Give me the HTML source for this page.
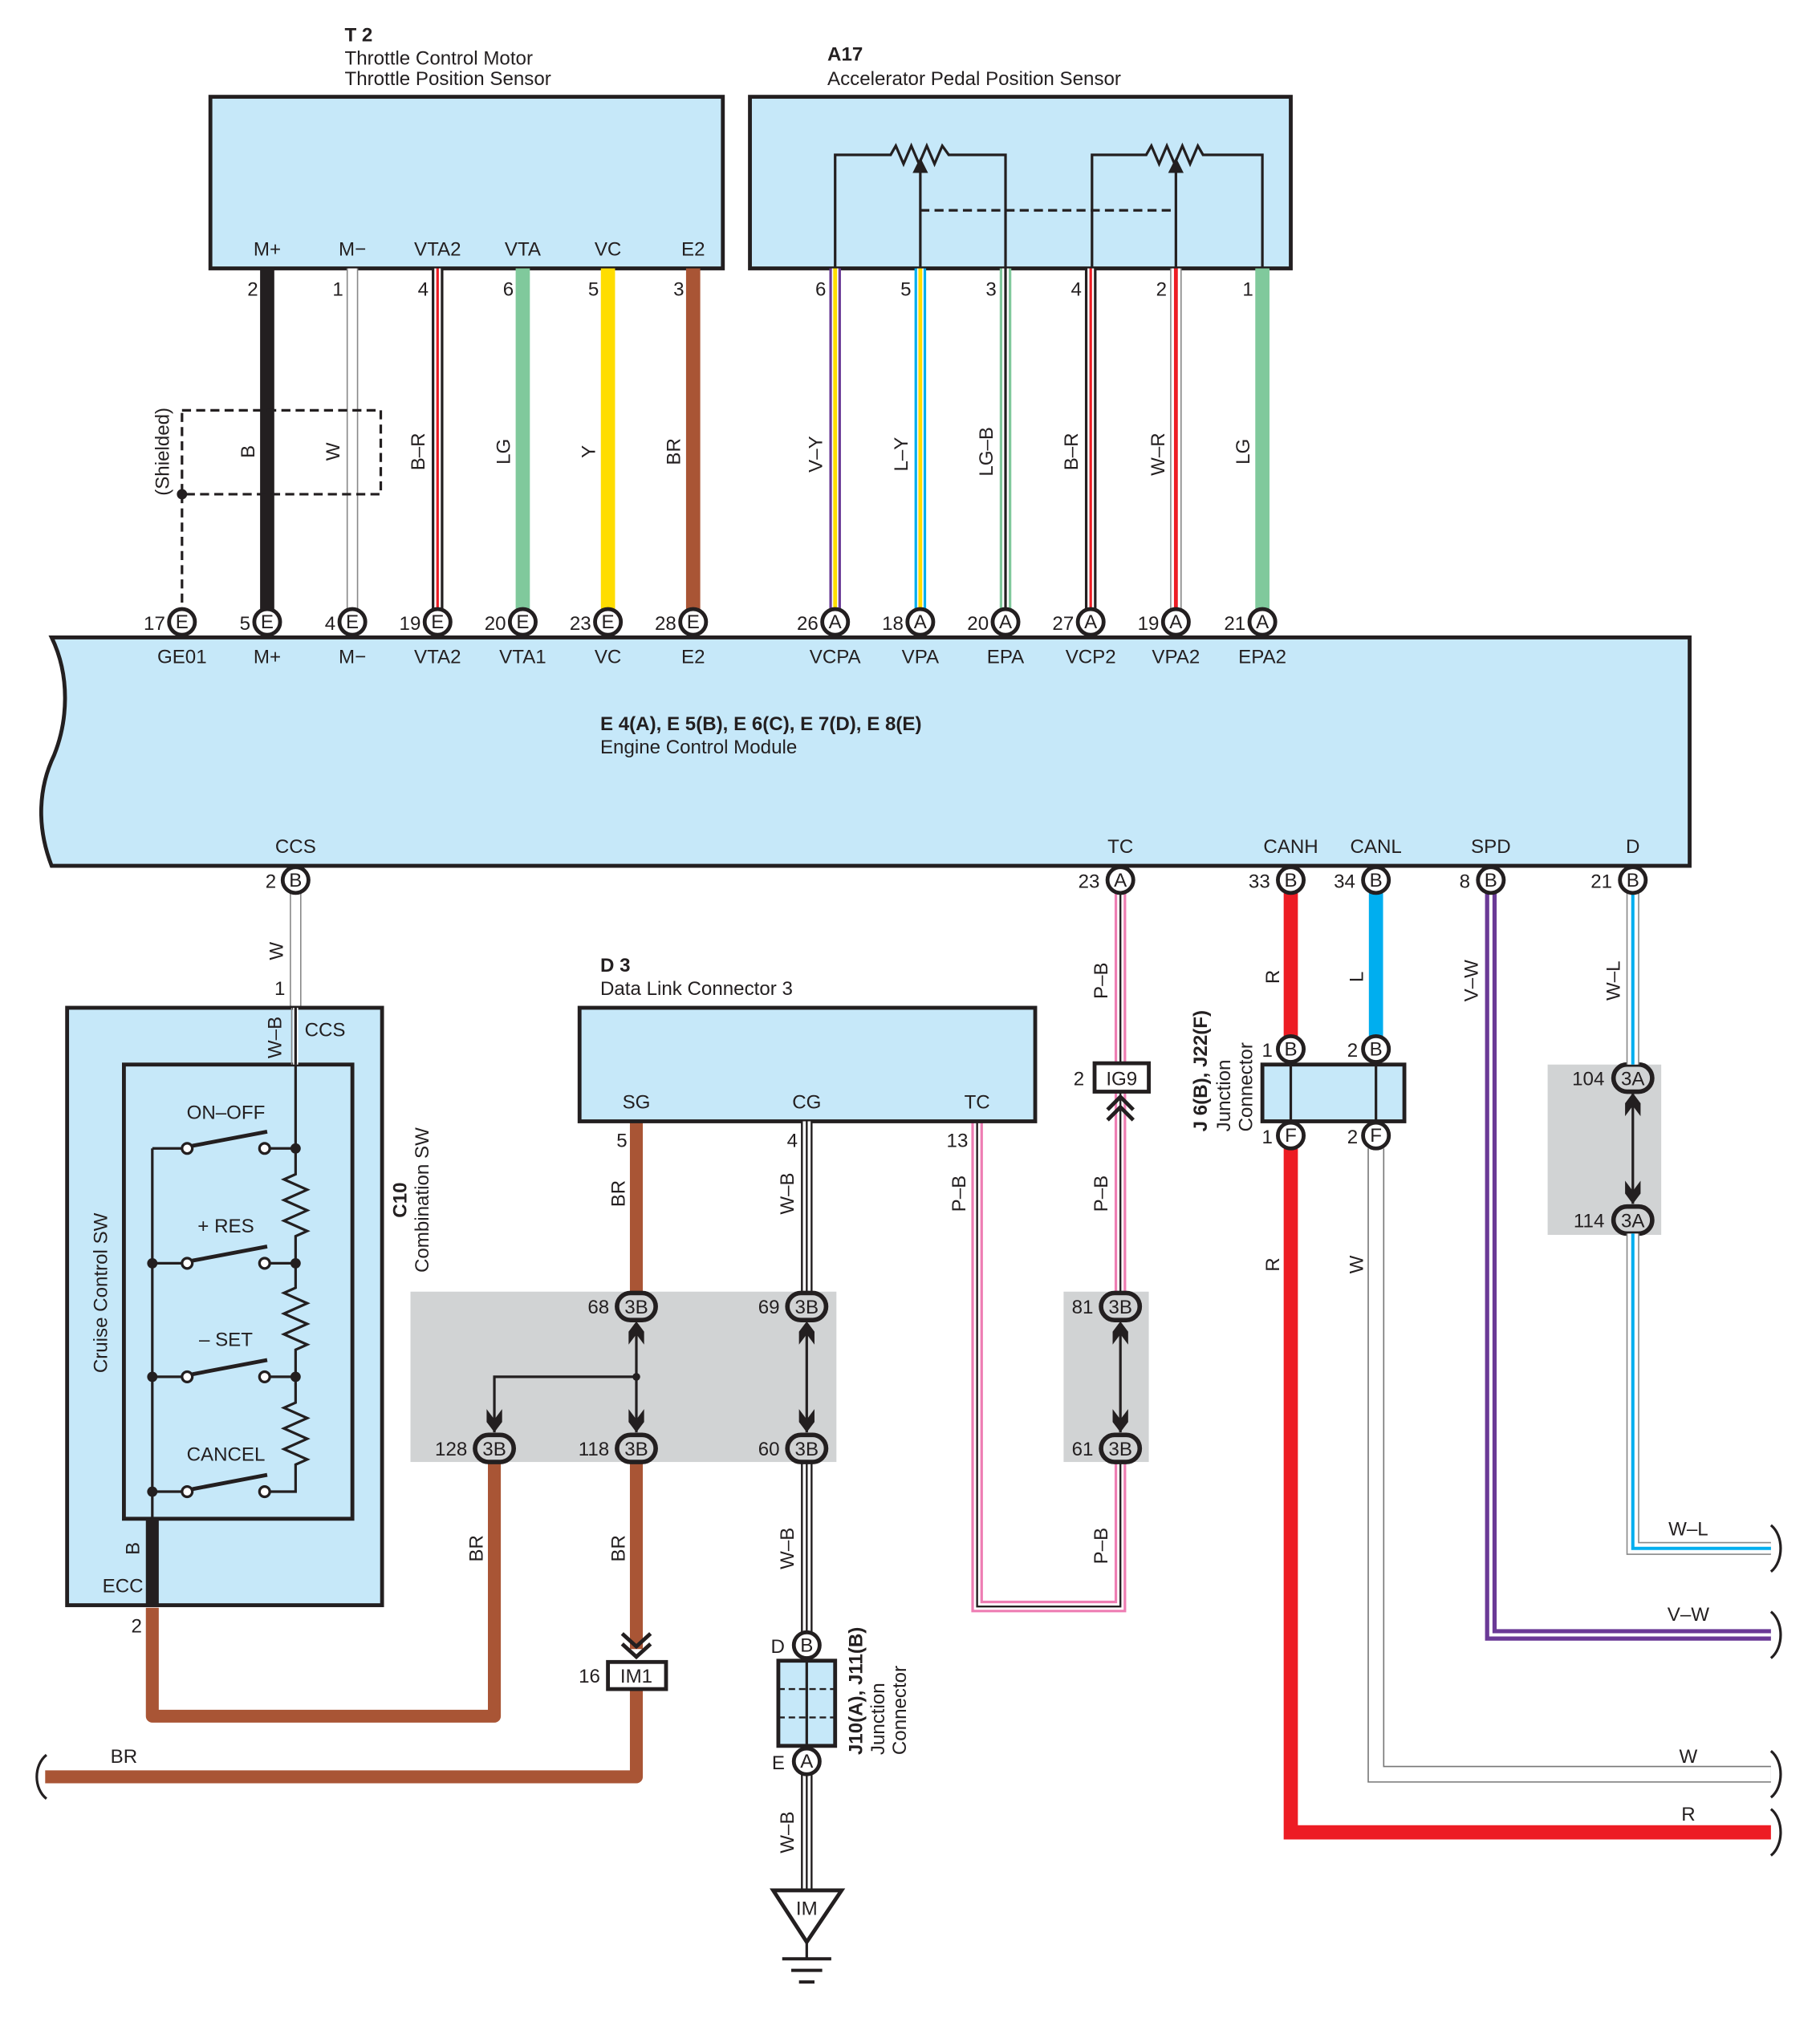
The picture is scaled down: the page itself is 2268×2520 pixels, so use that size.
<!DOCTYPE html>
<html><head><meta charset="utf-8"><style>
html,body{margin:0;padding:0;background:#fff}
svg{display:block}
text{font-family:"Liberation Sans",Arial,sans-serif;fill:#231f20;font-size:15px}
.b{font-weight:bold}
.c{text-anchor:middle}
.e{text-anchor:end}
</style></head><body>
<svg width="2268" height="2520" viewBox="0 0 1410 1567" preserveAspectRatio="none" xmlns="http://www.w3.org/2000/svg">
<defs>
<g id="ah"><polygon points="-6,-12 0,-4 6,-12 6,-2 0,6 -6,-2" fill="#231f20"/></g>
</defs>
<rect width="1410" height="1567" fill="#fff"/>

<!-- Titles -->
<text x="267" y="32" class="b">T 2</text>
<text x="267" y="50">Throttle Control Motor</text>
<text x="267" y="66">Throttle Position Sensor</text>
<text x="641" y="47" class="b">A17</text>
<text x="641" y="66">Accelerator Pedal Position Sensor</text>

<!-- T2 box -->
<rect x="163" y="75" width="397" height="133" fill="#c6e8f9" stroke="#231f20" stroke-width="3"/>
<text x="207" y="198" class="c">M+</text><text x="273" y="198" class="c">M−</text><text x="339" y="198" class="c">VTA2</text>
<text x="405" y="198" class="c">VTA</text><text x="471" y="198" class="c">VC</text><text x="537" y="198" class="c">E2</text>
<!-- A17 box -->
<rect x="581" y="75" width="419" height="133" fill="#c6e8f9" stroke="#231f20" stroke-width="3"/>
<g fill="none" stroke="#231f20" stroke-width="2">
<polyline points="647,208 647,120 690,120 694,113 700,127 706,113 712,127 718,113 724,127 730,113 735,120 779,120 779,208"/>
<polyline points="846,208 846,120 888,120 892,113 898,127 904,113 910,127 916,113 922,127 928,113 932,120 978,120 978,208"/>
<line x1="713" y1="208" x2="713" y2="132"/><line x1="911" y1="208" x2="911" y2="132"/>
<line x1="713" y1="163" x2="911" y2="163" stroke-dasharray="7,4"/>
</g>
<polygon points="707,134 713,122 719,134" fill="#231f20"/><polygon points="905,134 911,122 917,134" fill="#231f20"/>

<!-- T2 wires -->
<line x1="207" y1="208" x2="207" y2="474" stroke="#231f20" stroke-width="11"/>
<line x1="273" y1="208" x2="273" y2="474" stroke="#888" stroke-width="9"/><line x1="273" y1="208" x2="273" y2="474" stroke="#fff" stroke-width="7"/>
<line x1="339" y1="208" x2="339" y2="474" stroke="#231f20" stroke-width="9"/><line x1="339" y1="208" x2="339" y2="474" stroke="#fff" stroke-width="5"/><line x1="339" y1="208" x2="339" y2="474" stroke="#ed1c24" stroke-width="2"/>
<line x1="405" y1="208" x2="405" y2="474" stroke="#80c99c" stroke-width="11"/>
<line x1="471" y1="208" x2="471" y2="474" stroke="#ffdd00" stroke-width="11"/>
<line x1="537" y1="208" x2="537" y2="474" stroke="#a95535" stroke-width="11"/>
<!-- A17 wires -->
<line x1="647" y1="208" x2="647" y2="474" stroke="#6a3a96" stroke-width="9"/><line x1="647" y1="208" x2="647" y2="474" stroke="#fff" stroke-width="5"/><line x1="647" y1="208" x2="647" y2="474" stroke="#ffdd00" stroke-width="3"/>
<line x1="713" y1="208" x2="713" y2="474" stroke="#00aeef" stroke-width="9"/><line x1="713" y1="208" x2="713" y2="474" stroke="#fff" stroke-width="5"/><line x1="713" y1="208" x2="713" y2="474" stroke="#ffdd00" stroke-width="3"/>
<line x1="779" y1="208" x2="779" y2="474" stroke="#80c99c" stroke-width="9"/><line x1="779" y1="208" x2="779" y2="474" stroke="#fff" stroke-width="5"/><line x1="779" y1="208" x2="779" y2="474" stroke="#231f20" stroke-width="2"/>
<line x1="845" y1="208" x2="845" y2="474" stroke="#231f20" stroke-width="9"/><line x1="845" y1="208" x2="845" y2="474" stroke="#fff" stroke-width="5"/><line x1="845" y1="208" x2="845" y2="474" stroke="#ed1c24" stroke-width="2"/>
<line x1="911" y1="208" x2="911" y2="474" stroke="#888" stroke-width="9"/><line x1="911" y1="208" x2="911" y2="474" stroke="#fff" stroke-width="7"/><line x1="911" y1="208" x2="911" y2="474" stroke="#ed1c24" stroke-width="3"/>
<line x1="978" y1="208" x2="978" y2="474" stroke="#80c99c" stroke-width="11"/>

<!-- pin numbers top -->
<text x="200" y="229" class="e">2</text><text x="266" y="229" class="e">1</text><text x="332" y="229" class="e">4</text><text x="398" y="229" class="e">6</text><text x="464" y="229" class="e">5</text><text x="530" y="229" class="e">3</text>
<text x="640" y="229" class="e">6</text><text x="706" y="229" class="e">5</text><text x="772" y="229" class="e">3</text><text x="838" y="229" class="e">4</text><text x="904" y="229" class="e">2</text><text x="971" y="229" class="e">1</text>
<!-- wire labels rotated -->
<text transform="translate(197,350) rotate(-90)" class="c">B</text>
<text transform="translate(263,350) rotate(-90)" class="c">W</text>
<text transform="translate(329,350) rotate(-90)" class="c">B–R</text>
<text transform="translate(395,350) rotate(-90)" class="c">LG</text>
<text transform="translate(461,350) rotate(-90)" class="c">Y</text>
<text transform="translate(527,350) rotate(-90)" class="c">BR</text>
<text transform="translate(637,352) rotate(-90)" class="c">V–Y</text>
<text transform="translate(703,352) rotate(-90)" class="c">L–Y</text>
<text transform="translate(769,350) rotate(-90)" class="c">LG–B</text>
<text transform="translate(835,350) rotate(-90)" class="c">B–R</text>
<text transform="translate(902,352) rotate(-90)" class="c">W–R</text>
<text transform="translate(968,350) rotate(-90)" class="c">LG</text>
<text transform="translate(131,350) rotate(-90)" class="c">(Shielded)</text>
<!-- shield -->
<rect x="141" y="318" width="154" height="65" fill="none" stroke="#231f20" stroke-width="2" stroke-dasharray="7,4"/>
<line x1="141" y1="383" x2="141" y2="472" stroke="#231f20" stroke-width="2" stroke-dasharray="7,4"/>
<circle cx="141" cy="383" r="4" fill="#231f20"/>

<!-- ECM -->
<path d="M40,494 L1309,494 L1309,671 L40,671 C28,640 30,610 42,585 C52,560 55,525 40,494 Z" fill="#c6e8f9" stroke="#231f20" stroke-width="3"/>
<text x="141" y="514" class="c">GE01</text><text x="207" y="514" class="c">M+</text><text x="273" y="514" class="c">M−</text><text x="339" y="514" class="c">VTA2</text><text x="405" y="514" class="c">VTA1</text><text x="471" y="514" class="c">VC</text><text x="537" y="514" class="c">E2</text>
<text x="647" y="514" class="c">VCPA</text><text x="713" y="514" class="c">VPA</text><text x="779" y="514" class="c">EPA</text><text x="845" y="514" class="c">VCP2</text><text x="911" y="514" class="c">VPA2</text><text x="978" y="514" class="c">EPA2</text>
<text x="465" y="566" class="b">E 4(A), E 5(B), E 6(C), E 7(D), E 8(E)</text>
<text x="465" y="584">Engine Control Module</text>
<text x="229" y="661" class="c">CCS</text><text x="868" y="661" class="c">TC</text><text x="1000" y="661" class="c">CANH</text><text x="1066" y="661" class="c">CANL</text><text x="1155" y="661" class="c">SPD</text><text x="1265" y="661" class="c">D</text>

<!-- top connectors -->
<g stroke="#231f20" stroke-width="3" fill="#fff">
<circle cx="141" cy="482" r="10"/><circle cx="207" cy="482" r="10"/><circle cx="273" cy="482" r="10"/><circle cx="339" cy="482" r="10"/><circle cx="405" cy="482" r="10"/><circle cx="471" cy="482" r="10"/><circle cx="537" cy="482" r="10"/>
<circle cx="647" cy="482" r="10"/><circle cx="713" cy="482" r="10"/><circle cx="779" cy="482" r="10"/><circle cx="845" cy="482" r="10"/><circle cx="911" cy="482" r="10"/><circle cx="978" cy="482" r="10"/>
</g>
<g font-size="14">
<text x="141" y="487" class="c">E</text><text x="207" y="487" class="c">E</text><text x="273" y="487" class="c">E</text><text x="339" y="487" class="c">E</text><text x="405" y="487" class="c">E</text><text x="471" y="487" class="c">E</text><text x="537" y="487" class="c">E</text>
<text x="647" y="487" class="c">A</text><text x="713" y="487" class="c">A</text><text x="779" y="487" class="c">A</text><text x="845" y="487" class="c">A</text><text x="911" y="487" class="c">A</text><text x="978" y="487" class="c">A</text>
<text x="128" y="488" class="e">17</text><text x="194" y="488" class="e">5</text><text x="260" y="488" class="e">4</text><text x="326" y="488" class="e">19</text><text x="392" y="488" class="e">20</text><text x="458" y="488" class="e">23</text><text x="524" y="488" class="e">28</text>
<text x="634" y="488" class="e">26</text><text x="700" y="488" class="e">18</text><text x="766" y="488" class="e">20</text><text x="832" y="488" class="e">27</text><text x="898" y="488" class="e">19</text><text x="965" y="488" class="e">21</text>
</g>

<!-- ===== lower wiring ===== -->
<!-- TC P-B wire (drawn first so gray boxes/connectors sit on top) -->
<g fill="none">
<polyline points="757,869 757,1245 868,1245 868,692" stroke="#ee7db3" stroke-width="9"/>
<polyline points="757,869 757,1245 868,1245 868,692" stroke="#fff" stroke-width="5"/>
<polyline points="757,869 757,1245 868,1245 868,692" stroke="#231f20" stroke-width="1.5"/>
</g>

<!-- gray boxes -->
<rect x="318" y="1001" width="330" height="132" fill="#d1d3d4"/>
<rect x="824" y="1001" width="66" height="132" fill="#d1d3d4"/>
<rect x="1199" y="825" width="88" height="132" fill="#d1d3d4"/>

<!-- CCS W wire -->
<line x1="229" y1="692" x2="229" y2="825" stroke="#888" stroke-width="9"/><line x1="229" y1="692" x2="229" y2="825" stroke="#fff" stroke-width="7"/>
<text transform="translate(219,737) rotate(-90)" class="c">W</text>
<text x="221" y="771" class="e">1</text>

<!-- C10 -->
<rect x="52" y="781" width="244" height="463" fill="#c6e8f9" stroke="#231f20" stroke-width="3"/>
<rect x="96" y="825" width="177" height="352" fill="#c6e8f9" stroke="#231f20" stroke-width="3"/>
<line x1="229" y1="781" x2="229" y2="825" stroke="#fff" stroke-width="4"/>
<line x1="226" y1="781" x2="226" y2="825" stroke="#888" stroke-width="1"/>
<line x1="229" y1="781" x2="229" y2="825" stroke="#231f20" stroke-width="2"/>
<text transform="translate(218,804) rotate(-90)" class="c">W–B</text>
<text x="236" y="803">CCS</text>
<g fill="none" stroke="#231f20" stroke-width="2">
<polyline points="229,825 229,910 220,914 238,922 220,930 238,938 220,946 238,954 229,958 229,998 220,1002 238,1010 220,1018 238,1026 220,1034 238,1042 229,1046 229,1087 220,1091 238,1099 220,1107 238,1115 220,1123 238,1131 229,1135 229,1156 205,1156"/>
<line x1="205" y1="890" x2="229" y2="890"/><line x1="205" y1="979" x2="229" y2="979"/><line x1="205" y1="1067" x2="229" y2="1067"/>
<line x1="118" y1="890" x2="118" y2="1177"/>
<line x1="118" y1="890" x2="145" y2="890"/><line x1="118" y1="979" x2="145" y2="979"/><line x1="118" y1="1067" x2="145" y2="1067"/><line x1="118" y1="1156" x2="145" y2="1156"/>
<line x1="149" y1="888" x2="207" y2="877" stroke-width="3"/><line x1="149" y1="977" x2="207" y2="966" stroke-width="3"/><line x1="149" y1="1065" x2="207" y2="1054" stroke-width="3"/><line x1="149" y1="1154" x2="207" y2="1143" stroke-width="3"/>
</g>
<g fill="#fff" stroke="#231f20" stroke-width="2">
<circle cx="145" cy="890" r="4"/><circle cx="205" cy="890" r="4"/><circle cx="145" cy="979" r="4"/><circle cx="205" cy="979" r="4"/>
<circle cx="145" cy="1067" r="4"/><circle cx="205" cy="1067" r="4"/><circle cx="145" cy="1156" r="4"/><circle cx="205" cy="1156" r="4"/>
</g>
<g fill="#231f20"><circle cx="229" cy="890" r="4"/><circle cx="229" cy="979" r="4"/><circle cx="229" cy="1067" r="4"/><circle cx="118" cy="979" r="4"/><circle cx="118" cy="1067" r="4"/><circle cx="118" cy="1156" r="4"/></g>
<text x="175" y="867" class="c">ON–OFF</text><text x="175" y="955" class="c">+ RES</text><text x="175" y="1043" class="c">– SET</text><text x="175" y="1132" class="c">CANCEL</text>
<text transform="translate(83,1002) rotate(-90)" class="c">Cruise Control SW</text>
<text transform="translate(315,930) rotate(-90)" class="c b">C10</text>
<text transform="translate(332,930) rotate(-90)" class="c">Combination SW</text>
<line x1="118" y1="1177" x2="118" y2="1244" stroke="#231f20" stroke-width="10"/>
<text transform="translate(108,1200) rotate(-90)" class="c">B</text>
<text x="111" y="1234" class="e">ECC</text>
<text x="110" y="1265" class="e">2</text>

<!-- BR wires -->
<g fill="none" stroke="#a95535" stroke-width="10" stroke-linejoin="round">
<polyline points="118,1246 118,1330 383,1330 383,1132"/>
<polyline points="493,1309 493,1377 35,1377"/>
<line x1="493" y1="869" x2="493" y2="1002"/>
<line x1="493" y1="1132" x2="493" y2="1278"/>
</g>
<path d="M36,1360 C26,1368 26,1386 36,1394" fill="none" stroke="#231f20" stroke-width="2"/>
<text x="96" y="1366" class="c">BR</text>
<text transform="translate(374,1200) rotate(-90)" class="c">BR</text>
<text transform="translate(484,1200) rotate(-90)" class="c">BR</text>
<text transform="translate(484,925) rotate(-90)" class="c">BR</text>

<!-- D3 -->
<text x="465" y="753" class="b">D 3</text>
<text x="465" y="771">Data Link Connector 3</text>
<rect x="449" y="781" width="353" height="88" fill="#c6e8f9" stroke="#231f20" stroke-width="3"/>
<text x="493" y="859" class="c">SG</text><text x="625" y="859" class="c">CG</text><text x="757" y="859" class="c">TC</text>
<text x="486" y="889" class="e">5</text><text x="618" y="889" class="e">4</text><text x="750" y="889" class="e">13</text>

<!-- W-B wire -->
<g stroke-width="9" stroke="#231f20"><line x1="625" y1="869" x2="625" y2="1002"/><line x1="625" y1="1132" x2="625" y2="1287"/><line x1="625" y1="1353" x2="625" y2="1468"/></g>
<g stroke-width="6" stroke="#fff"><line x1="625" y1="869" x2="625" y2="1002"/><line x1="625" y1="1132" x2="625" y2="1287"/><line x1="625" y1="1353" x2="625" y2="1468"/></g>
<g stroke-width="1.5" stroke="#231f20"><line x1="625" y1="869" x2="625" y2="1002"/><line x1="625" y1="1132" x2="625" y2="1287"/><line x1="625" y1="1353" x2="625" y2="1468"/></g>
<text transform="translate(615,925) rotate(-90)" class="c">W–B</text>
<text transform="translate(615,1200) rotate(-90)" class="c">W–B</text>
<text transform="translate(615,1420) rotate(-90)" class="c">W–B</text>

<!-- gray box internals -->
<g stroke="#231f20" stroke-width="2" fill="none">
<line x1="493" y1="1026" x2="493" y2="1110"/><polyline points="493,1067 383,1067 383,1110"/>
<line x1="625" y1="1026" x2="625" y2="1110"/>
<line x1="868" y1="1026" x2="868" y2="1110"/>
<line x1="1265" y1="847" x2="1265" y2="933"/>
</g>
<circle cx="493" cy="1067" r="3" fill="#231f20"/>
<use href="#ah" transform="translate(493,1030) rotate(180)"/>
<use href="#ah" transform="translate(625,1030) rotate(180)"/>
<use href="#ah" transform="translate(868,1030) rotate(180)"/>
<use href="#ah" transform="translate(1265,853) rotate(180)"/>
<use href="#ah" transform="translate(383,1104)"/><use href="#ah" transform="translate(493,1104)"/><use href="#ah" transform="translate(625,1104)"/><use href="#ah" transform="translate(868,1104)"/><use href="#ah" transform="translate(1265,927)"/>

<!-- 3B / 3A connectors -->
<g fill="#d1d3d4" stroke="#231f20" stroke-width="3.5">
<rect x="478" y="1002" width="30" height="21" rx="10.5"/><rect x="610" y="1002" width="30" height="21" rx="10.5"/>
<rect x="368" y="1112" width="30" height="21" rx="10.5"/><rect x="478" y="1112" width="30" height="21" rx="10.5"/><rect x="610" y="1112" width="30" height="21" rx="10.5"/>
<rect x="853" y="1002" width="30" height="21" rx="10.5"/><rect x="853" y="1112" width="30" height="21" rx="10.5"/>
<rect x="1250" y="825" width="30" height="21" rx="10.5"/><rect x="1250" y="935" width="30" height="21" rx="10.5"/>
</g>
<g font-size="14">
<text x="493" y="1018" class="c">3B</text><text x="625" y="1018" class="c">3B</text><text x="383" y="1128" class="c">3B</text><text x="493" y="1128" class="c">3B</text><text x="625" y="1128" class="c">3B</text>
<text x="868" y="1018" class="c">3B</text><text x="868" y="1128" class="c">3B</text><text x="1265" y="841" class="c">3A</text><text x="1265" y="951" class="c">3A</text>
</g>
<text x="472" y="1018" class="e">68</text><text x="604" y="1018" class="e">69</text><text x="362" y="1128" class="e">128</text><text x="472" y="1128" class="e">118</text><text x="604" y="1128" class="e">60</text>
<text x="847" y="1018" class="e">81</text><text x="847" y="1128" class="e">61</text><text x="1243" y="841" class="e">104</text><text x="1243" y="951" class="e">114</text>

<!-- IM1 -->
<polyline points="482,1266 493,1276 504,1266" fill="none" stroke="#231f20" stroke-width="3"/>
<polyline points="482,1274 493,1284 504,1274" fill="none" stroke="#231f20" stroke-width="3"/>
<rect x="471" y="1288" width="45" height="21" fill="#fff" stroke="#231f20" stroke-width="3"/>
<text x="493" y="1304" class="c">IM1</text>
<text x="465" y="1304" class="e">16</text>

<!-- J10 -->
<circle cx="625" cy="1275" r="10" fill="#fff" stroke="#231f20" stroke-width="3"/><text x="625" y="1280" class="c" font-size="14">B</text>
<text x="608" y="1281" class="e">D</text>
<rect x="603" y="1287" width="44" height="66" fill="#c6e8f9" stroke="#231f20" stroke-width="3"/>
<line x1="625" y1="1287" x2="625" y2="1353" stroke="#231f20" stroke-width="2"/>
<line x1="603" y1="1309" x2="647" y2="1309" stroke="#231f20" stroke-width="1.5" stroke-dasharray="5,3"/>
<line x1="603" y1="1331" x2="647" y2="1331" stroke="#231f20" stroke-width="1.5" stroke-dasharray="5,3"/>
<circle cx="625" cy="1365" r="10" fill="#fff" stroke="#231f20" stroke-width="3"/><text x="625" y="1370" class="c" font-size="14">A</text>
<text x="608" y="1371" class="e">E</text>
<text transform="translate(668,1360) rotate(-90)" class="b">J10(A), J11(B)</text>
<text transform="translate(685,1360) rotate(-90)">Junction</text>
<text transform="translate(702,1360) rotate(-90)">Connector</text>
<polygon points="599,1465 652,1465 625,1505" fill="#fff" stroke="#231f20" stroke-width="3"/>
<text x="625" y="1484" class="c">IM</text>
<line x1="625" y1="1505" x2="625" y2="1518" stroke="#231f20" stroke-width="2"/>
<g stroke="#231f20" stroke-width="2.5"><line x1="606" y1="1518" x2="644" y2="1518"/><line x1="613" y1="1527" x2="637" y2="1527"/><line x1="619" y1="1536" x2="631" y2="1536"/></g>

<!-- IG9 -->
<rect x="848" y="824" width="42" height="22" fill="#fff" stroke="#231f20" stroke-width="3"/>
<text x="869" y="841" class="c">IG9</text><text x="840" y="841" class="e">2</text>
<polyline points="858,860 868,850 878,860" fill="none" stroke="#231f20" stroke-width="3"/>
<polyline points="858,868 868,858 878,868" fill="none" stroke="#231f20" stroke-width="3"/>
<text transform="translate(858,760) rotate(-90)" class="c">P–B</text>
<text transform="translate(858,925) rotate(-90)" class="c">P–B</text>
<text transform="translate(858,1198) rotate(-90)" class="c">P–B</text>
<text transform="translate(748,925) rotate(-90)" class="c">P–B</text>

<!-- CANH red -->
<line x1="1000" y1="692" x2="1000" y2="804" stroke="#ed1c24" stroke-width="11"/>
<polyline points="1000,890 1000,1420 1372,1420" fill="none" stroke="#ed1c24" stroke-width="11"/>
<text transform="translate(991,757) rotate(-90)" class="c">R</text>
<text transform="translate(991,980) rotate(-90)" class="c">R</text>
<text x="1308" y="1411" class="c">R</text>
<!-- CANL -->
<line x1="1066" y1="692" x2="1066" y2="804" stroke="#00aeef" stroke-width="11"/>
<text transform="translate(1056,757) rotate(-90)" class="c">L</text>
<polyline points="1066,890 1066,1375 1372,1375" fill="none" stroke="#777" stroke-width="13"/>
<polyline points="1066,890 1066,1375 1372,1375" fill="none" stroke="#fff" stroke-width="11"/>
<text transform="translate(1056,980) rotate(-90)" class="c">W</text>
<text x="1308" y="1366" class="c">W</text>
<!-- J6 -->
<rect x="978" y="825" width="110" height="44" fill="#c6e8f9" stroke="#231f20" stroke-width="3"/>
<line x1="1000" y1="825" x2="1000" y2="869" stroke="#231f20" stroke-width="2"/><line x1="1066" y1="825" x2="1066" y2="869" stroke="#231f20" stroke-width="2"/>
<g fill="#fff" stroke="#231f20" stroke-width="3"><circle cx="1000" cy="813" r="10"/><circle cx="1066" cy="813" r="10"/><circle cx="1000" cy="880" r="10"/><circle cx="1066" cy="880" r="10"/></g>
<g font-size="14"><text x="1000" y="818" class="c">B</text><text x="1066" y="818" class="c">B</text><text x="1000" y="885" class="c">F</text><text x="1066" y="885" class="c">F</text></g>
<text x="986" y="819" class="e">1</text><text x="1052" y="819" class="e">2</text><text x="986" y="886" class="e">1</text><text x="1052" y="886" class="e">2</text>
<text transform="translate(935,877) rotate(-90)" class="b">J 6(B), J22(F)</text>
<text transform="translate(953,877) rotate(-90)">Junction</text>
<text transform="translate(970,877) rotate(-90)">Connector</text>

<!-- SPD V-W -->
<polyline points="1155,692 1155,1267 1372,1267" fill="none" stroke="#6a3a96" stroke-width="9"/>
<polyline points="1155,692 1155,1267 1372,1267" fill="none" stroke="#fff" stroke-width="2.5"/>
<text transform="translate(1145,760) rotate(-90)" class="c">V–W</text>
<text x="1308" y="1256" class="c">V–W</text>
<!-- D W-L -->
<g fill="none">
<line x1="1265" y1="692" x2="1265" y2="825" stroke="#888" stroke-width="10"/><line x1="1265" y1="692" x2="1265" y2="825" stroke="#fff" stroke-width="8"/><line x1="1265" y1="692" x2="1265" y2="825" stroke="#00aeef" stroke-width="2.5"/>
<polyline points="1265,956 1265,1200 1372,1200" stroke="#888" stroke-width="10"/><polyline points="1265,956 1265,1200 1372,1200" stroke="#fff" stroke-width="8"/><polyline points="1265,956 1265,1200 1372,1200" stroke="#00aeef" stroke-width="2.5"/>
</g>
<text transform="translate(1255,760) rotate(-90)" class="c">W–L</text>
<text x="1308" y="1190" class="c">W–L</text>
<!-- right cut marks -->
<g fill="none" stroke="#231f20" stroke-width="2">
<path d="M1372,1182 C1382,1190 1382,1210 1372,1218"/>
<path d="M1372,1249 C1382,1257 1382,1277 1372,1285"/>
<path d="M1372,1357 C1382,1365 1382,1385 1372,1393"/>
<path d="M1372,1402 C1382,1410 1382,1430 1372,1438"/>
</g>

<!-- bottom ECM connectors -->
<g fill="#fff" stroke="#231f20" stroke-width="3">
<circle cx="229" cy="682" r="10"/><circle cx="868" cy="682" r="10"/><circle cx="1000" cy="682" r="10"/><circle cx="1066" cy="682" r="10"/><circle cx="1155" cy="682" r="10"/><circle cx="1265" cy="682" r="10"/>
</g>
<g font-size="14">
<text x="229" y="687" class="c">B</text><text x="868" y="687" class="c">A</text><text x="1000" y="687" class="c">B</text><text x="1066" y="687" class="c">B</text><text x="1155" y="687" class="c">B</text><text x="1265" y="687" class="c">B</text>
<text x="214" y="688" class="e">2</text><text x="852" y="688" class="e">23</text><text x="984" y="688" class="e">33</text><text x="1050" y="688" class="e">34</text><text x="1139" y="688" class="e">8</text><text x="1249" y="688" class="e">21</text>
</g>
</svg>
</body></html>
